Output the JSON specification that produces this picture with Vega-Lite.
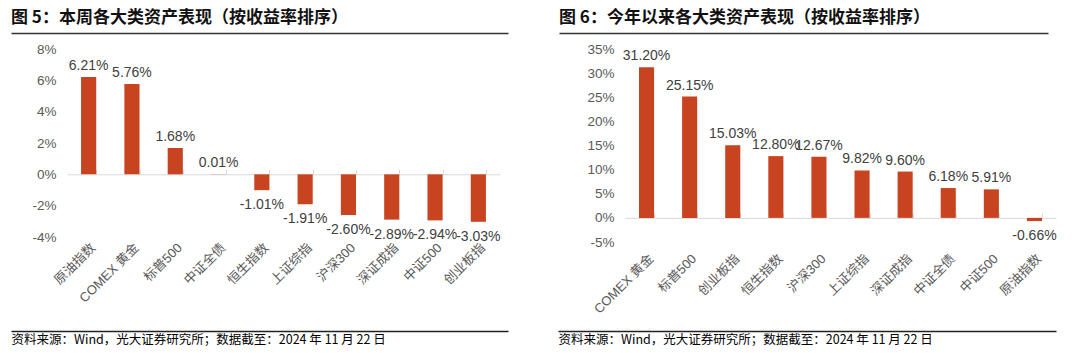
{
  "$schema": "https://vega.github.io/schema/vega-lite/v6.json",
  "background": "white",
  "padding": {"left": 8, "top": 9, "right": 0, "bottom": 0},
  "bounds": "flush",
  "spacing": 125,
  "config": {"view": {"stroke": null}, "axis": {"grid": false},
    "axisY": {"labelOverlap": false, "labelFlush": false, "domain": false, "ticks": false, "grid": false, "labelPadding": 11, "labelFontSize": 13.5, "labelColor": "#595959", "labelFont": "Liberation Sans"}},
  "hconcat": [
    {
      "width": 433,
      "height": 188,
      "title": {"text": "图 5：本周各大类资产表现（按收益率排序）", "anchor": "start", "frame": "group", "dx": -56, "offset": -7, "baseline": "alphabetic", "font": "Noto Sans CJK SC", "fontSize": 17, "fontWeight": "bold", "color": "#111111"},
      "data": {"values": [
        {"name": "原油指数", "value": 6.21},
        {"name": "COMEX 黄金", "value": 5.76},
        {"name": "标普500", "value": 1.68},
        {"name": "中证全债", "value": 0.01},
        {"name": "恒生指数", "value": -1.01},
        {"name": "上证综指", "value": -1.91},
        {"name": "沪深300", "value": -2.60},
        {"name": "深证成指", "value": -2.89},
        {"name": "中证500", "value": -2.94},
        {"name": "创业板指", "value": -3.03}
      ]},
      "layer": [
        {
          "mark": {"type": "bar", "color": "#C8431F"},
          "encoding": {
            "x": {"field": "name", "type": "nominal", "scale": {"domain": ["原油指数", "COMEX 黄金", "标普500", "中证全债", "恒生指数", "上证综指", "沪深300", "深证成指", "中证500", "创业板指"], "paddingInner": 0.65, "paddingOuter": 0.325},
              "axis": {"orient": "top", "offset": -125.3, "labels": false, "domain": true, "domainColor": "#d9d9d9", "ticks": true, "tickBand": "extent", "tickColor": "#d9d9d9", "tickSize": 5, "title": null, "grid": false}},
            "y": {"field": "value", "type": "quantitative", "scale": {"domain": [-4, 8], "nice": false},
              "axis": {"values": [-4, -2, 0, 2, 4, 6, 8], "labelOverlap": false, "labelExpr": "replace(format(datum.value, '.0f'), '−', '-') + '%'", "title": null}}
          }
        },
        {
          "transform": [{"filter": "datum.value >= 0"}],
          "mark": {"type": "text", "dy": -7, "baseline": "alphabetic", "font": "Liberation Sans", "fontSize": 14, "color": "#404040", "text": {"expr": "replace(format(datum.value, '.2f'), '−', '-') + '%'"}},
          "encoding": {
            "x": {"field": "name", "type": "nominal", "scale": {"domain": ["原油指数", "COMEX 黄金", "标普500", "中证全债", "恒生指数", "上证综指", "沪深300", "深证成指", "中证500", "创业板指"], "paddingInner": 0.65, "paddingOuter": 0.325},
              "axis": {"orient": "bottom", "labelAngle": -45, "labelPadding": 4, "domain": false, "ticks": false, "title": null, "labelFont": "Liberation Sans, Noto Sans CJK SC", "labelFontSize": 13, "labelColor": "#595959"}},
            "y": {"field": "value", "type": "quantitative", "axis": {"values": [-4, -2, 0, 2, 4, 6, 8], "labelOverlap": false, "labelExpr": "replace(format(datum.value, '.0f'), '−', '-') + '%'", "title": null}}
          }
        },
        {
          "transform": [{"filter": "datum.value < 0"}],
          "mark": {"type": "text", "dy": 19, "baseline": "alphabetic", "font": "Liberation Sans", "fontSize": 14, "color": "#404040", "text": {"expr": "replace(format(datum.value, '.2f'), '−', '-') + '%'"}},
          "encoding": {
            "x": {"field": "name", "type": "nominal", "scale": {"domain": ["原油指数", "COMEX 黄金", "标普500", "中证全债", "恒生指数", "上证综指", "沪深300", "深证成指", "中证500", "创业板指"], "paddingInner": 0.65, "paddingOuter": 0.325}, "axis": null},
            "y": {"field": "value", "type": "quantitative", "axis": {"values": [-4, -2, 0, 2, 4, 6, 8], "labelOverlap": false, "labelExpr": "replace(format(datum.value, '.0f'), '−', '-') + '%'", "title": null}}
          }
        },
        {
          "mark": {"type": "point", "opacity": 0},
          "encoding": {
            "x": {"field": "value", "type": "quantitative", "scale": {"range": [-56, 441], "nice": false, "zero": false},
              "axis": {"orient": "top", "offset": 16, "domain": true, "domainColor": "#333333", "domainWidth": 1.5, "ticks": false, "labels": false, "grid": false, "title": null}},
            "y": {"field": "value", "type": "quantitative", "axis": {"values": [-4, -2, 0, 2, 4, 6, 8], "labelOverlap": false, "labelExpr": "replace(format(datum.value, '.0f'), '−', '-') + '%'", "title": null}}
          }
        },
        {
          "mark": {"type": "point", "opacity": 0},
          "encoding": {
            "x": {"field": "value", "type": "quantitative", "scale": {"range": [-56, 441], "nice": false, "zero": false},
              "axis": {"orient": "bottom", "offset": 94, "domain": true, "domainColor": "#222222", "domainWidth": 1.5, "ticks": false, "labels": false, "grid": false,
                "title": "资料来源：Wind，光大证券研究所；数据截至：2024 年 11 月 22 日", "titleAnchor": "start", "titleAlign": "left", "titleBaseline": "top", "titlePadding": 2, "titleFont": "Noto Sans CJK SC", "titleFontSize": 12.5, "titleFontWeight": "normal", "titleColor": "#000000"}},
            "y": {"field": "value", "type": "quantitative", "axis": {"values": [-4, -2, 0, 2, 4, 6, 8], "labelOverlap": false, "labelExpr": "replace(format(datum.value, '.0f'), '−', '-') + '%'", "title": null}}
          }
        }
      ],
      "resolve": {"scale": {"x": "independent"}}
    },
    {
      "width": 431,
      "height": 193,
      "title": {"text": "图 6：今年以来各大类资产表现（按收益率排序）", "anchor": "start", "frame": "group", "dx": -66, "offset": -7, "baseline": "alphabetic", "font": "Noto Sans CJK SC", "fontSize": 17, "fontWeight": "bold", "color": "#111111"},
      "data": {"values": [
        {"name": "COMEX 黄金", "value": 31.20},
        {"name": "标普500", "value": 25.15},
        {"name": "创业板指", "value": 15.03},
        {"name": "恒生指数", "value": 12.80},
        {"name": "沪深300", "value": 12.67},
        {"name": "上证综指", "value": 9.82},
        {"name": "深证成指", "value": 9.60},
        {"name": "中证全债", "value": 6.18},
        {"name": "中证500", "value": 5.91},
        {"name": "原油指数", "value": -0.66}
      ]},
      "layer": [
        {
          "mark": {"type": "bar", "color": "#C8431F"},
          "encoding": {
            "x": {"field": "name", "type": "nominal", "scale": {"domain": ["COMEX 黄金", "标普500", "创业板指", "恒生指数", "沪深300", "上证综指", "深证成指", "中证全债", "中证500", "原油指数"], "paddingInner": 0.65, "paddingOuter": 0.325},
              "axis": {"orient": "top", "offset": -168.9, "labels": false, "domain": true, "domainColor": "#d9d9d9", "ticks": true, "tickBand": "extent", "tickColor": "#d9d9d9", "tickSize": 5, "title": null, "grid": false}},
            "y": {"field": "value", "type": "quantitative", "scale": {"domain": [-5, 35], "nice": false},
              "axis": {"values": [-5, 0, 5, 10, 15, 20, 25, 30, 35], "labelOverlap": false, "labelExpr": "replace(format(datum.value, '.0f'), '−', '-') + '%'", "title": null}}
          }
        },
        {
          "transform": [{"filter": "datum.value >= 0"}],
          "mark": {"type": "text", "dy": -7, "baseline": "alphabetic", "font": "Liberation Sans", "fontSize": 14, "color": "#404040", "text": {"expr": "replace(format(datum.value, '.2f'), '−', '-') + '%'"}},
          "encoding": {
            "x": {"field": "name", "type": "nominal", "scale": {"domain": ["COMEX 黄金", "标普500", "创业板指", "恒生指数", "沪深300", "上证综指", "深证成指", "中证全债", "中证500", "原油指数"], "paddingInner": 0.65, "paddingOuter": 0.325},
              "axis": {"orient": "bottom", "labelAngle": -45, "labelPadding": 10, "domain": false, "ticks": false, "title": null, "labelFont": "Liberation Sans, Noto Sans CJK SC", "labelFontSize": 13, "labelColor": "#595959"}},
            "y": {"field": "value", "type": "quantitative", "axis": {"values": [-5, 0, 5, 10, 15, 20, 25, 30, 35], "labelOverlap": false, "labelExpr": "replace(format(datum.value, '.0f'), '−', '-') + '%'", "title": null}}
          }
        },
        {
          "transform": [{"filter": "datum.value < 0"}],
          "mark": {"type": "text", "dy": 19, "baseline": "alphabetic", "font": "Liberation Sans", "fontSize": 14, "color": "#404040", "text": {"expr": "replace(format(datum.value, '.2f'), '−', '-') + '%'"}},
          "encoding": {
            "x": {"field": "name", "type": "nominal", "scale": {"domain": ["COMEX 黄金", "标普500", "创业板指", "恒生指数", "沪深300", "上证综指", "深证成指", "中证全债", "中证500", "原油指数"], "paddingInner": 0.65, "paddingOuter": 0.325}, "axis": null},
            "y": {"field": "value", "type": "quantitative", "axis": {"values": [-5, 0, 5, 10, 15, 20, 25, 30, 35], "labelOverlap": false, "labelExpr": "replace(format(datum.value, '.0f'), '−', '-') + '%'", "title": null}}
          }
        },
        {
          "mark": {"type": "point", "opacity": 0},
          "encoding": {
            "x": {"field": "value", "type": "quantitative", "scale": {"range": [-66, 423], "nice": false, "zero": false},
              "axis": {"orient": "top", "offset": 16, "domain": true, "domainColor": "#333333", "domainWidth": 1.5, "ticks": false, "labels": false, "grid": false, "title": null}},
            "y": {"field": "value", "type": "quantitative", "axis": {"values": [-5, 0, 5, 10, 15, 20, 25, 30, 35], "labelOverlap": false, "labelExpr": "replace(format(datum.value, '.0f'), '−', '-') + '%'", "title": null}}
          }
        },
        {
          "mark": {"type": "point", "opacity": 0},
          "encoding": {
            "x": {"field": "value", "type": "quantitative", "scale": {"range": [-67, 431], "nice": false, "zero": false},
              "axis": {"orient": "bottom", "offset": 89, "domain": true, "domainColor": "#222222", "domainWidth": 1.5, "ticks": false, "labels": false, "grid": false,
                "title": "资料来源：Wind，光大证券研究所；数据截至：2024 年 11 月 22 日", "titleAnchor": "start", "titleAlign": "left", "titleBaseline": "top", "titlePadding": 2, "titleFont": "Noto Sans CJK SC", "titleFontSize": 12.5, "titleFontWeight": "normal", "titleColor": "#000000"}},
            "y": {"field": "value", "type": "quantitative", "axis": {"values": [-5, 0, 5, 10, 15, 20, 25, 30, 35], "labelOverlap": false, "labelExpr": "replace(format(datum.value, '.0f'), '−', '-') + '%'", "title": null}}
          }
        }
      ],
      "resolve": {"scale": {"x": "independent"}}
    }
  ]
}
